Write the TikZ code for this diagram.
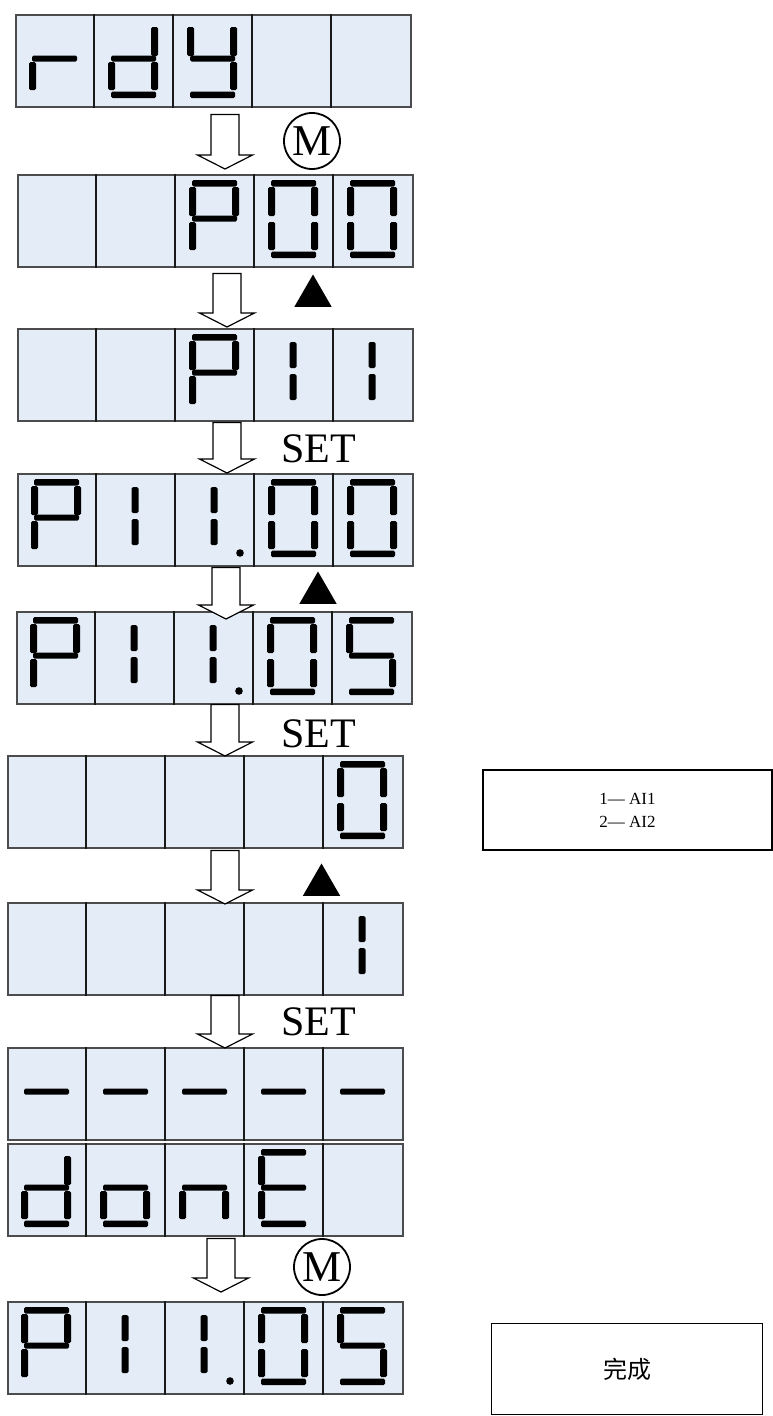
\documentclass[tikz,border=0pt]{standalone}
\usepackage{fontspec}
\setmainfont{Liberation Serif}
\newfontfamily\cjk{Noto Sans CJK SC}
\usetikzlibrary{calc,shapes.geometric}
\definecolor{lcdblue}{RGB}{228,236,247}
\tikzset{>=latex}
\tikzset{
  display/.style={draw=black!70, line width=1.5pt, fill=lcdblue, anchor=north west,
    inner sep=0pt, minimum width=395pt, minimum height=92pt},
  celldiv/.style={black!90, line width=1.1pt},
  seg/.style={fill=black, rounded corners=1.5pt},
  pics/seg a/.style={code={\fill[seg] (17,6) rectangle (62,12.5);}},
  pics/seg b/.style={code={\fill[seg] (57,13) rectangle (64,42);}},
  pics/seg c/.style={code={\fill[seg] (57,48) rectangle (64,76);}},
  pics/seg d/.style={code={\fill[seg] (17,77.5) rectangle (62,84);}},
  pics/seg e/.style={code={\fill[seg] (14,48) rectangle (21,76);}},
  pics/seg f/.style={code={\fill[seg] (14,13) rectangle (21,42);}},
  pics/seg g/.style={code={\fill[seg] (17,41.5) rectangle (62,47.5);}},
  pics/seg u/.style={code={\fill[seg] (35.5,14) rectangle (42.5,40);}},
  pics/seg l/.style={code={\fill[seg] (35.5,46) rectangle (42.5,72);}},
  pics/seg p/.style={code={\fill (65,80) circle (3.8pt);}},
  flowarrow/.style={draw, fill=white, line width=1.2pt,
    to path={let \p1=(\tikztostart), \p2=(\tikztotarget) in
      (\x1-14pt,\y1) -- (\x1-14pt,\y2+14pt) -- (\x1-27.5pt,\y2+14pt) -- (\x1,\y2)
      -- (\x1+27.5pt,\y2+14pt) -- (\x1+14pt,\y2+14pt) -- (\x1+14pt,\y1) -- cycle}},
  modekey/.style={circle, draw, line width=1.8pt, minimum size=56pt, inner sep=0pt,
    font=\fontsize{44}{44}\selectfont},
  upkey/.style={regular polygon, regular polygon sides=3, fill=black,
    minimum size=43pt, inner sep=0pt},
  setkey/.style={anchor=base west, inner sep=0pt, font=\fontsize{42}{42}\selectfont},
  note/.style={draw, line width=1.2pt, align=center, inner sep=0pt},
}

\begin{document}
\begin{tikzpicture}[x=1pt, y=-1pt]
  \useasboundingbox (0,0) rectangle (773,1416);

  % the ten panel readings
  \foreach \rw/\px/\py in {1/15/14, 2/17/174, 3/17/328, 4/17/473, 5/16/611,
      6/7/755, 7/7/902, 8/7/1047, 9/7/1143, 10/7/1301}{
    \node[display] (r\rw) at (\px,\py) {};
    \foreach \i in {1,...,4}
      \draw[celldiv] ($(r\rw.north west)+(\i*79,0)$) -- ($(r\rw.south west)+(\i*79,0)$);
  }

  % lit segments: row/cell/segments
  \foreach \rw/\cl/\sg in {
      1/0/{e,g}, 1/1/{b,c,d,e,g}, 1/2/{b,c,d,f,g},
      2/2/{a,b,e,f,g}, 2/3/{a,b,c,d,e,f}, 2/4/{a,b,c,d,e,f},
      3/2/{a,b,e,f,g}, 3/3/{u,l}, 3/4/{u,l},
      4/0/{a,b,e,f,g}, 4/1/{u,l}, 4/2/{u,l,p}, 4/3/{a,b,c,d,e,f}, 4/4/{a,b,c,d,e,f},
      5/0/{a,b,e,f,g}, 5/1/{u,l}, 5/2/{u,l,p}, 5/3/{a,b,c,d,e,f}, 5/4/{a,c,d,f,g},
      6/4/{a,b,c,d,e,f},
      7/4/{u,l},
      8/0/{g}, 8/1/{g}, 8/2/{g}, 8/3/{g}, 8/4/{g},
      9/0/{b,c,d,e,g}, 9/1/{c,d,e,g}, 9/2/{c,e,g}, 9/3/{a,d,e,f,g},
      10/0/{a,b,e,f,g}, 10/1/{u,l}, 10/2/{u,l,p}, 10/3/{a,b,c,d,e,f}, 10/4/{a,c,d,f,g}}{
    \foreach \s in \sg
      \pic at ($(r\rw.north west)+(\cl*79,0)$) {seg \s};
  }

  % keys pressed between readings
  \node[modekey] (mode1) at (312,141) {M};
  \node[upkey] (up1) at (313,296) {};
  \node[setkey] (set1) at (281,462) {SET};
  \node[upkey] (up2) at (318,593) {};
  \node[setkey] (set2) at (281,747) {SET};
  \node[upkey] (up3) at (321.5,885) {};
  \node[setkey] (set3) at (281,1035) {SET};
  \node[modekey] (mode2) at (322,1267) {M};

  % hollow arrows: from/to/x/gap below/gap above
  \foreach \a/\b/\ax/\g/\h in {1/2/225/7/-5, 2/3/227/6/-1, 3/4/227/1/0, 4/5/226/1/8,
      5/6/225/0/1, 6/7/225/2/2, 7/8/225/0/1, 9/10/221/2/-9}{
    \coordinate (ax) at (\ax,0);
    \draw[flowarrow] ($(r\a.south -| ax)+(0,\g)$) to ($(r\b.north -| ax)+(0,\h)$);
  }

  % side notes
  \node[note, minimum width=289pt, minimum height=80pt,
    font=\fontsize{17}{23}\selectfont] (ailist) at (627.5,810) {1— AI1\\2— AI2};
  \node[note, anchor=north west, minimum width=271pt, minimum height=91pt,
    font=\cjk\fontsize{24}{24}\selectfont] (finish) at (491,1323) {完成};
\end{tikzpicture}
\end{document}
